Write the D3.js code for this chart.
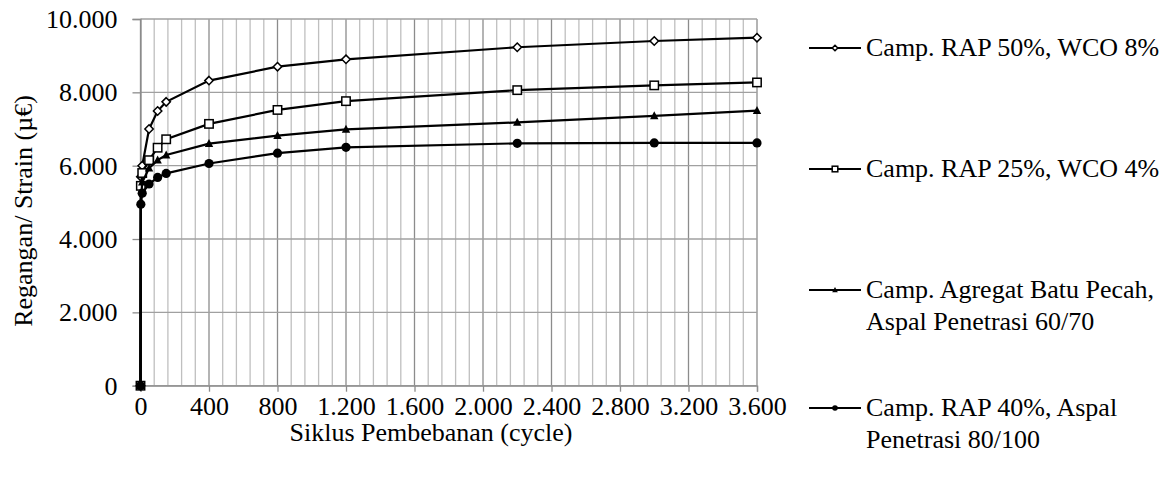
<!DOCTYPE html>
<html>
<head>
<meta charset="utf-8">
<script src="https://cdnjs.cloudflare.com/ajax/libs/d3/7.8.5/d3.min.js"></script>
<style>
  body { margin: 0; background: #fff; }
</style>
</head>
<body>
<svg id="chart" width="1174" height="484"></svg>
<script>
// cycles (x) and strain values per mix
const cycles = [0, 2, 10, 50, 100, 150, 400, 800, 1200, 2200, 3000, 3600];
const rap50wco8 = [0, 5700, 6000, 7000, 7490, 7740, 8320, 8700, 8900, 9230, 9400, 9490];
const rap25wco4 = [0, 5450, 5800, 6150, 6490, 6720, 7140, 7520, 7760, 8060, 8190, 8270];
const batuPecah = [0, 5000, 5550, 5930, 6150, 6290, 6600, 6820, 6990, 7180, 7360, 7500];
const rap40 = [0, 4950, 5250, 5500, 5680, 5790, 6060, 6340, 6500, 6610, 6620, 6620];

const seriesNames = [
  ["Camp. RAP 50%, WCO 8%"],
  ["Camp. RAP 25%, WCO 4%"],
  ["Camp. Agregat Batu Pecah,", "Aspal Penetrasi 60/70"],
  ["Camp. RAP 40%, Aspal", "Penetrasi 80/100"]
];
const seriesValues = [rap50wco8, rap25wco4, batuPecah, rap40];
const markerTypes = ["diamond", "square", "triangle", "circle"];

const xTicks = [0, 400, 800, 1200, 1600, 2000, 2400, 2800, 3200, 3600];
const yTicks = [0, 2000, 4000, 6000, 8000, 10000];

const plot = {left: 140.5, right: 757, top: 19, bottom: 385.7};
const FONT = '"Liberation Serif"';
const FS = 26;

const idLocale = d3.formatLocale({decimal: ",", thousands: ".", grouping: [3], currency: ["", ""]});
const fmt = idLocale.format(",d");

let svg = d3.select("#chart");

let x = d3.scaleLinear().domain([0, 3600]).range([plot.left, plot.right]);
let y = d3.scaleLinear().domain([0, 10000]).range([plot.bottom, plot.top]);

// minor vertical grid every 80 cycles
svg.append("g").selectAll("line")
    .data(d3.range(0, 3601, 80).filter(v => v % 400 !== 0))
    .join("line")
    .attr("x1", d => x(d)).attr("x2", d => x(d))
    .attr("y1", plot.top).attr("y2", plot.bottom)
    .attr("stroke", "#bfbfbf")
    .attr("stroke-width", 1.3);

// major vertical grid
svg.append("g").selectAll("line")
    .data(xTicks)
    .join("line")
    .attr("x1", d => x(d)).attr("x2", d => x(d))
    .attr("y1", plot.top).attr("y2", plot.bottom)
    .attr("stroke", "#8c8c8c")
    .attr("stroke-width", 1.3);

// horizontal grid
svg.append("g").selectAll("line")
    .data(yTicks)
    .join("line")
    .attr("x1", plot.left).attr("x2", plot.right)
    .attr("y1", d => y(d)).attr("y2", d => y(d))
    .attr("stroke", "#a0a0a0")
    .attr("stroke-width", 1.3);

// axes
let xAxis = svg.append("g")
    .attr("transform", `translate(0,${plot.bottom})`)
    .call(d3.axisBottom(x).tickValues(xTicks).tickFormat(fmt).tickSize(6).tickPadding(5));
let yAxis = svg.append("g")
    .attr("transform", `translate(${plot.left},0)`)
    .call(d3.axisLeft(y).tickValues(yTicks).tickFormat(fmt).tickSize(8).tickPadding(15));

[xAxis, yAxis].forEach(a => {
  a.select(".domain").attr("stroke", "#8c8c8c").attr("stroke-width", 1.3);
  a.selectAll(".tick line").attr("stroke", "#8c8c8c").attr("stroke-width", 1.3);
  a.selectAll(".tick text").attr("fill", "#000");
});
yAxis.selectAll(".tick text").attr("dy", "0.33em");

// axis titles
svg.append("text")
    .attr("x", 431).attr("y", 441)
    .attr("text-anchor", "middle")
    .text("Siklus Pembebanan (cycle)");
svg.append("text")
    .attr("transform", `translate(32, 211) rotate(-90)`)
    .attr("text-anchor", "middle")
    .text("Regangan/ Strain (µ€)");

function drawMarker(g, type, cx, cy, s) {
  if (type === "diamond") {
    g.append("path")
      .attr("d", `M${cx},${cy - s}L${cx + s},${cy}L${cx},${cy + s}L${cx - s},${cy}Z`)
      .attr("fill", "#fff").attr("stroke", "#000").attr("stroke-width", 1.5);
  } else if (type === "square") {
    g.append("rect")
      .attr("x", cx - s).attr("y", cy - s).attr("width", 2 * s).attr("height", 2 * s)
      .attr("fill", "#fff").attr("stroke", "#000").attr("stroke-width", 1.5);
  } else if (type === "triangle") {
    g.append("path")
      .attr("d", `M${cx},${cy - s * 1.1}L${cx + s},${cy + s * 0.8}L${cx - s},${cy + s * 0.8}Z`)
      .attr("fill", "#000");
  } else {
    g.append("circle").attr("cx", cx).attr("cy", cy).attr("r", s).attr("fill", "#000");
  }
}

let line = d3.line()
    .x(d => x(d[0]))
    .y(d => y(d[1]));

seriesValues.forEach((vals, i) => {
  let pts = cycles.map((c, j) => [c, vals[j]]);
  let g = svg.append("g");
  g.append("path")
    .datum(pts)
    .attr("d", line)
    .attr("fill", "none")
    .attr("stroke", "#000")
    .attr("stroke-width", 2.2);
  pts.forEach(p => drawMarker(g, markerTypes[i], x(p[0]), y(p[1]), i === 3 ? 4.6 : 4.2));
});

// legend
const legendY = [48, 169, 290, 408];
seriesNames.forEach((lines, i) => {
  let g = svg.append("g").attr("transform", `translate(0,${legendY[i]})`);
  g.append("line")
    .attr("x1", 809).attr("x2", 861)
    .attr("y1", 0).attr("y2", 0)
    .attr("stroke", "#000").attr("stroke-width", 2.2);
  drawMarker(g, markerTypes[i], 835, 0, 2.8);
  let t = g.append("text")
    .attr("x", 866).attr("y", 8);
  lines.forEach((s, k) => {
    t.append("tspan").attr("x", 866).attr("dy", k === 0 ? 0 : 31.7).text(s);
  });
});

// serif face on every text element directly
svg.selectAll("text")
    .attr("font-family", FONT)
    .attr("font-size", FS)
    .style("font-family", FONT)
    .style("font-size", FS + "px");
</script>
</body>
</html>
